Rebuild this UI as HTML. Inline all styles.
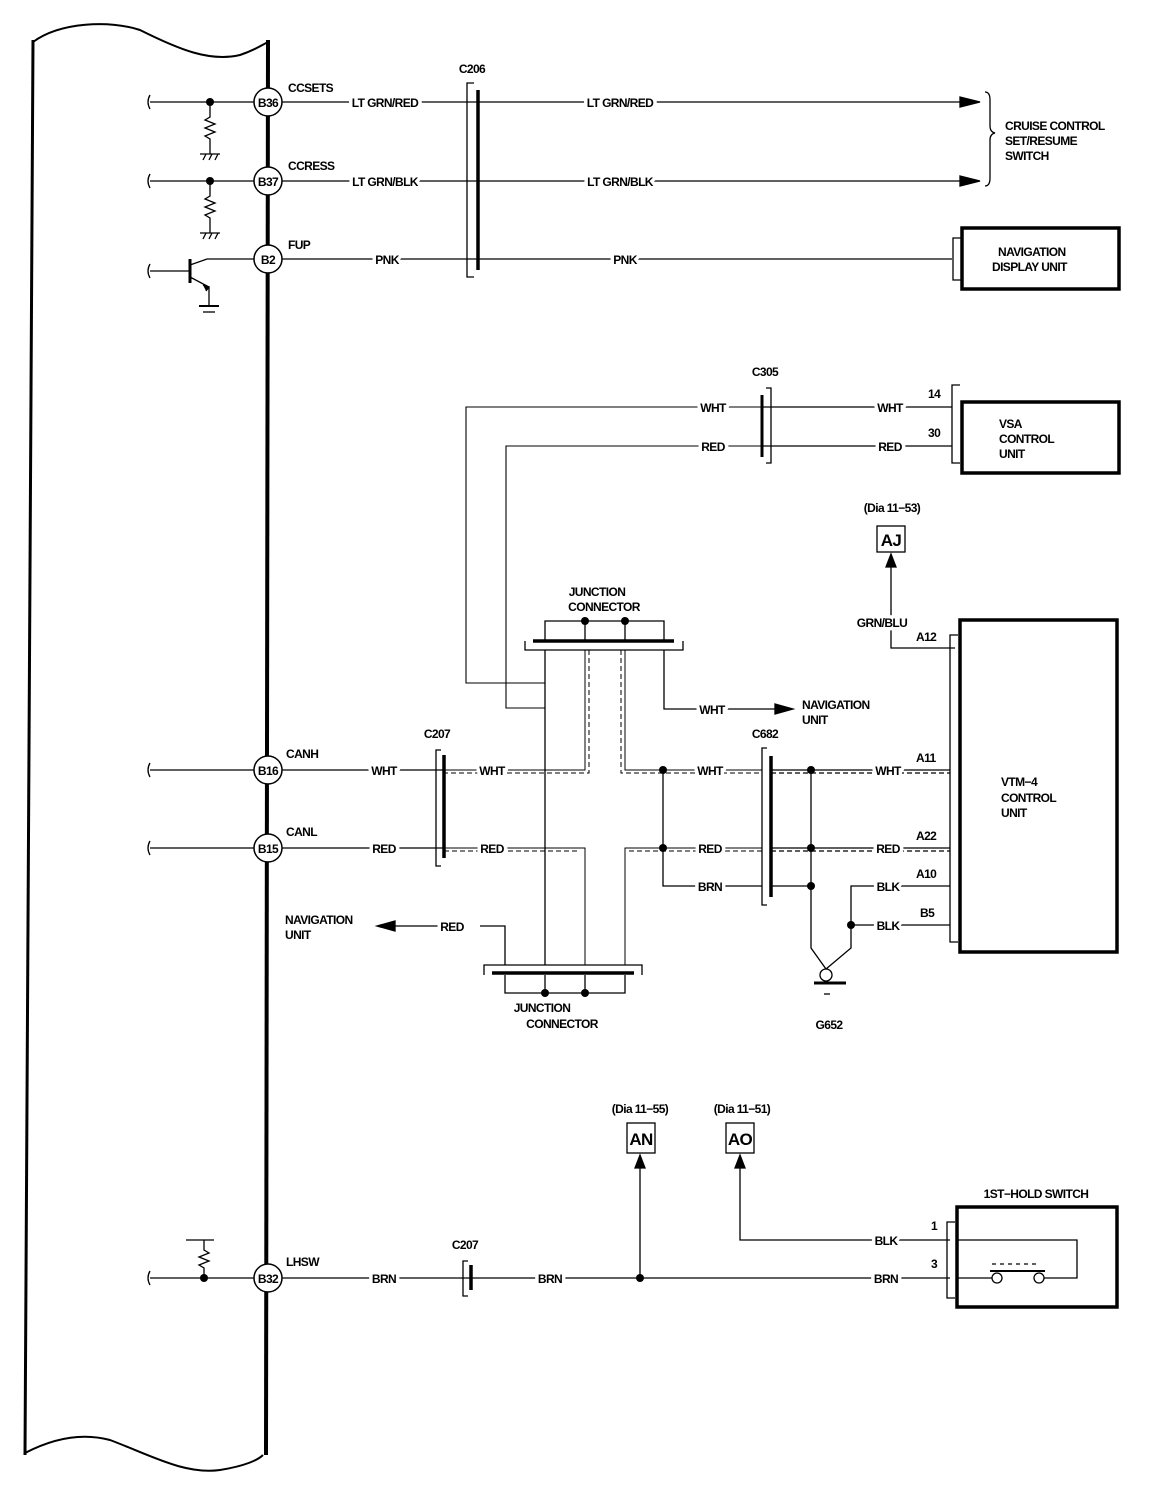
<!DOCTYPE html>
<html><head><meta charset="utf-8"><style>
html,body{margin:0;padding:0;background:#fff}
svg{display:block}
text{font-family:"Liberation Sans Narrow","Liberation Sans",sans-serif;font-weight:bold;font-size:12px;letter-spacing:-0.6px;fill:#000;paint-order:stroke;stroke:#fff;stroke-width:7px;stroke-linejoin:round}
.n{stroke:none}
</style></head><body>
<svg width="1152" height="1494" viewBox="0 0 1152 1494" xmlns="http://www.w3.org/2000/svg">
<g fill="none" stroke="#000" stroke-width="1.3">
<!-- frame -->
<path d="M33 42 C60 22 110 20 140 30 C180 50 210 62 240 55 C255 50 262 45 268 42" stroke-width="2"/>
<path d="M25 1453 C50 1440 80 1432 110 1440 C150 1455 185 1475 220 1470 C245 1466 258 1460 263 1455" stroke-width="2"/>
<line x1="33" y1="40" x2="25" y2="1455" stroke-width="3"/>
<line x1="268" y1="40" x2="266" y2="1455" stroke-width="4"/>

<!-- row B36 -->
<path d="M150 95 q-4 7 0 14"/>
<line x1="150" y1="102" x2="254" y2="102"/>
<line x1="282" y1="102" x2="960" y2="102"/>
<path d="M210 102 v15 l-5 3 l10 4 l-10 4 l10 4 l-10 4 l5 3 v15"/>
<line x1="200" y1="154" x2="220" y2="154"/>
<path d="M203 160 l3 -6 M209 160 l3 -6 M215 160 l3 -6"/>
<!-- row B37 -->
<path d="M150 174 q-4 7 0 14"/>
<line x1="150" y1="181" x2="254" y2="181"/>
<line x1="282" y1="181" x2="960" y2="181"/>
<path d="M210 181 v15 l-5 3 l10 4 l-10 4 l10 4 l-10 4 l5 3 v15"/>
<line x1="200" y1="233" x2="220" y2="233"/>
<path d="M203 239 l3 -6 M209 239 l3 -6 M215 239 l3 -6"/>
<!-- row B2 -->
<path d="M150 264 q-4 7 0 14"/>
<line x1="150" y1="271" x2="189" y2="271"/>
<line x1="190" y1="259" x2="190" y2="283" stroke-width="3"/>
<path d="M190 265 L207 259 H254"/>
<path d="M190 277 L209 287 V305"/>
<path d="M203 285 l6 2 l-3 4" fill="#000"/>
<line x1="199" y1="306" x2="219" y2="306" stroke-width="2"/>
<line x1="203" y1="312" x2="215" y2="312"/>
<line x1="282" y1="259" x2="952" y2="259"/>
<!-- C206 -->
<path d="M474 83 H467 V277 H474"/>
<line x1="478" y1="90" x2="478" y2="270" stroke-width="3.5"/>
<!-- arrows -->
<path d="M960 97 L980 102 L960 107 Z" fill="#000"/>
<path d="M960 176 L980 181 L960 186 Z" fill="#000"/>
<path d="M985 92 q5 0 5 8 v26 q0 6 5 7 q-5 1 -5 7 v38 q0 8 -5 8"/>
<!-- nav display -->
<rect x="962" y="228" width="157" height="61" stroke-width="3.5"/>
<path d="M962 238 H953 V280 H962"/>

<!-- VSA -->
<rect x="962" y="402" width="157" height="71" stroke-width="3.5"/>
<path d="M960 385 H952 V463 H960"/>
<path d="M766 388 H771 V463 H766"/>
<line x1="762" y1="395" x2="762" y2="457" stroke-width="3"/>
<line x1="762" y1="407" x2="952" y2="407"/>
<line x1="762" y1="446" x2="952" y2="446"/>
<path d="M762 407 H466 V683 H545" stroke-width="1.1"/>
<path d="M762 446 H506 V708 H545" stroke-width="1.1"/>

<!-- AJ -->
<rect x="877" y="526" width="28" height="26"/>
<path d="M886 567 L891 554 L896 567 Z" fill="#000"/>
<path d="M891 565 V648 H955"/>
<!-- VTM-4 -->
<rect x="960" y="620" width="157" height="332" stroke-width="3.5"/>
<path d="M958 635 H950 V942 H958"/>

<!-- top junction -->
<path d="M545 641 V621 H664 V641"/>
<line x1="585" y1="621" x2="585" y2="641"/><line x1="625" y1="621" x2="625" y2="641"/>
<line x1="533" y1="641" x2="674" y2="641" stroke-width="3.5"/>
<path d="M525 641 V650 H683 V641"/>
<line x1="545" y1="650" x2="545" y2="965"/>
<path d="M585 650 V770 H442" stroke-width="1"/>
<path d="M589 650 V773 H442" stroke-dasharray="5 3" stroke-width="1"/>
<path d="M625 650 V770 H762" stroke-width="1"/>
<path d="M621 650 V773 H762" stroke-dasharray="5 3" stroke-width="1"/>
<path d="M664 650 V709 H775"/>
<path d="M775 704 L793 709 L775 714 Z" fill="#000"/>

<!-- C207 mid -->
<path d="M441 750 H436 V866 H441"/>
<line x1="444" y1="755" x2="444" y2="858" stroke-width="3.5"/>
<line x1="150" y1="770" x2="254" y2="770"/><path d="M150 763 q-4 7 0 14"/>
<line x1="282" y1="770" x2="444" y2="770"/>
<line x1="150" y1="848" x2="254" y2="848"/><path d="M150 841 q-4 7 0 14"/>
<line x1="282" y1="848" x2="444" y2="848"/>
<path d="M444 848 H585 V965" stroke-width="1"/>
<path d="M444 851 H580" stroke-dasharray="5 3" stroke-width="1"/>
<path d="M762 848 H625 V965" stroke-width="1"/>
<path d="M762 851 H629" stroke-dasharray="5 3" stroke-width="1"/>
<path d="M663 770 V886 H762"/>
<path d="M480 926 H505 V965"/>
<path d="M377 926 L395 921 L395 931 Z" fill="#000"/>
<line x1="395" y1="926" x2="440" y2="926"/>

<!-- bottom junction -->
<path d="M484 975 V965 H642 V975"/>
<line x1="492" y1="973" x2="634" y2="973" stroke-width="3.5"/>
<path d="M505 975 V993 H625 V975"/>
<line x1="545" y1="975" x2="545" y2="993"/><line x1="585" y1="975" x2="585" y2="993"/>

<!-- C682 -->
<path d="M767 748 H762 V905 H767"/>
<line x1="771" y1="756" x2="771" y2="897" stroke-width="3.5"/>
<line x1="771" y1="770" x2="950" y2="770"/>
<line x1="771" y1="773" x2="950" y2="773" stroke-dasharray="5 3"/>
<line x1="771" y1="848" x2="950" y2="848"/>
<line x1="771" y1="851" x2="950" y2="851" stroke-dasharray="5 3"/>
<line x1="771" y1="886" x2="811" y2="886"/>
<path d="M811 770 V948 L826 969"/>
<path d="M950 886 H851 V948 L826 969"/>
<line x1="851" y1="925" x2="950" y2="925"/>
<circle cx="826" cy="975" r="6"/>
<line x1="814" y1="983" x2="846" y2="983" stroke-width="3"/>
<line x1="824" y1="994" x2="830" y2="994"/>

<!-- bottom row -->
<path d="M150 1271 q-4 7 0 14"/>
<line x1="150" y1="1278" x2="254" y2="1278"/>
<path d="M204 1278 V1268 l-5 -3 l10 -4 l-10 -4 l10 -4 l-5 -3 V1240"/>
<path d="M186 1240 H214"/>
<line x1="282" y1="1278" x2="950" y2="1278"/>
<path d="M468 1261 H463 V1296 H468"/>
<line x1="471" y1="1265" x2="471" y2="1290" stroke-width="3.5"/>
<line x1="640" y1="1278" x2="640" y2="1166"/>
<path d="M635 1168 L640 1155 L645 1168 Z" fill="#000"/>
<rect x="627" y="1123" width="28" height="30"/>
<rect x="726" y="1123" width="28" height="30"/>
<path d="M735 1168 L740 1155 L745 1168 Z" fill="#000"/>
<path d="M740 1166 V1240 H950"/>
<rect x="957" y="1207" width="160" height="100" stroke-width="3.5"/>
<path d="M955 1222 H947 V1298 H955"/>
<path d="M957 1240 H1077 V1278 H1044 M957 1278 H992"/>
<circle cx="997" cy="1278" r="5"/><circle cx="1039" cy="1278" r="5"/>
<line x1="990" y1="1271" x2="1045" y2="1271" stroke-width="2"/>
<line x1="992" y1="1264" x2="1040" y2="1264" stroke-dasharray="4 4"/>
</g>
<g fill="#000" stroke="none">
<circle cx="210" cy="102" r="4"/><circle cx="210" cy="181" r="4"/><circle cx="204" cy="1278" r="4"/>
<circle cx="585" cy="621" r="4"/><circle cx="625" cy="621" r="4"/>
<circle cx="545" cy="993" r="4"/><circle cx="585" cy="993" r="4"/>
<circle cx="663" cy="770" r="4"/><circle cx="663" cy="848" r="4"/>
<circle cx="811" cy="770" r="4"/><circle cx="811" cy="848" r="4"/><circle cx="811" cy="886" r="4"/>
<circle cx="851" cy="925" r="4"/><circle cx="640" cy="1278" r="4"/>
</g>
<g fill="#fff" stroke="#000" stroke-width="1.5">
<circle cx="268" cy="102" r="14"/><circle cx="268" cy="181" r="14"/><circle cx="268" cy="259" r="14"/>
<circle cx="268" cy="770" r="14"/><circle cx="268" cy="848" r="14"/><circle cx="268" cy="1278" r="14"/>
</g>
<g text-anchor="middle">
<text class="n" x="268" y="107">B36</text><text class="n" x="268" y="186">B37</text><text class="n" x="268" y="264">B2</text>
<text class="n" x="268" y="775">B16</text><text class="n" x="268" y="853">B15</text><text class="n" x="268" y="1283">B32</text>
<text x="385" y="107">LT GRN/RED</text><text x="620" y="107">LT GRN/RED</text>
<text x="385" y="186">LT GRN/BLK</text><text x="620" y="186">LT GRN/BLK</text>
<text x="387" y="264">PNK</text><text x="625" y="264">PNK</text>
<text class="n" x="472" y="73">C206</text>
<text x="713" y="412">WHT</text><text x="890" y="412">WHT</text>
<text x="713" y="451">RED</text><text x="890" y="451">RED</text>
<text class="n" x="765" y="376">C305</text>
<text class="n" x="892" y="512">(Dia 11−53)</text>
<text class="n" x="891" y="546" style="font-size:17px">AJ</text>
<text x="882" y="627">GRN/BLU</text>
<text x="384" y="775">WHT</text><text x="492" y="775">WHT</text>
<text x="710" y="775">WHT</text><text x="888" y="775">WHT</text>
<text x="384" y="853">RED</text><text x="492" y="853">RED</text>
<text x="710" y="853">RED</text><text x="888" y="853">RED</text>
<text x="710" y="891">BRN</text><text x="888" y="891">BLK</text><text x="888" y="930">BLK</text>
<text x="452" y="931">RED</text>
<text x="712" y="714">WHT</text>
<text class="n" x="437" y="738">C207</text><text class="n" x="765" y="738">C682</text>
<text class="n" x="597" y="596">JUNCTION</text><text class="n" x="604" y="611">CONNECTOR</text>
<text class="n" x="542" y="1012">JUNCTION</text><text class="n" x="562" y="1028">CONNECTOR</text>
<text class="n" x="829" y="1029">G652</text>
<text x="384" y="1283">BRN</text><text x="550" y="1283">BRN</text><text x="886" y="1283">BRN</text><text x="886" y="1245">BLK</text>
<text class="n" x="465" y="1249">C207</text>
<text class="n" x="640" y="1113">(Dia 11−55)</text><text class="n" x="742" y="1113">(Dia 11−51)</text>
<text class="n" x="641" y="1145" style="font-size:17px">AN</text><text class="n" x="740" y="1145" style="font-size:17px">AO</text>
<text class="n" x="1036" y="1198">1ST−HOLD SWITCH</text>
</g>
<g>
<text class="n" x="288" y="92">CCSETS</text><text class="n" x="288" y="170">CCRESS</text><text class="n" x="288" y="249">FUP</text>
<text class="n" x="286" y="758">CANH</text><text class="n" x="286" y="836">CANL</text><text class="n" x="286" y="1266">LHSW</text>
<text class="n" x="1005" y="130">CRUISE CONTROL</text><text class="n" x="1005" y="145">SET/RESUME</text><text class="n" x="1005" y="160">SWITCH</text>
<text class="n" x="998" y="256">NAVIGATION</text><text class="n" x="992" y="271">DISPLAY UNIT</text>
<text class="n" x="999" y="428">VSA</text><text class="n" x="999" y="443">CONTROL</text><text class="n" x="999" y="458">UNIT</text>
<text class="n" x="928" y="398">14</text><text class="n" x="928" y="437">30</text>
<text class="n" x="916" y="641">A12</text><text class="n" x="916" y="762">A11</text><text class="n" x="916" y="840">A22</text>
<text class="n" x="916" y="878">A10</text><text class="n" x="920" y="917">B5</text>
<text class="n" x="1001" y="786">VTM−4</text><text class="n" x="1001" y="802">CONTROL</text><text class="n" x="1001" y="817">UNIT</text>
<text class="n" x="802" y="709">NAVIGATION</text><text class="n" x="802" y="724">UNIT</text>
<text class="n" x="285" y="924">NAVIGATION</text><text class="n" x="285" y="939">UNIT</text>
<text class="n" x="931" y="1230">1</text><text class="n" x="931" y="1268">3</text>
</g>
</svg>
</body></html>
